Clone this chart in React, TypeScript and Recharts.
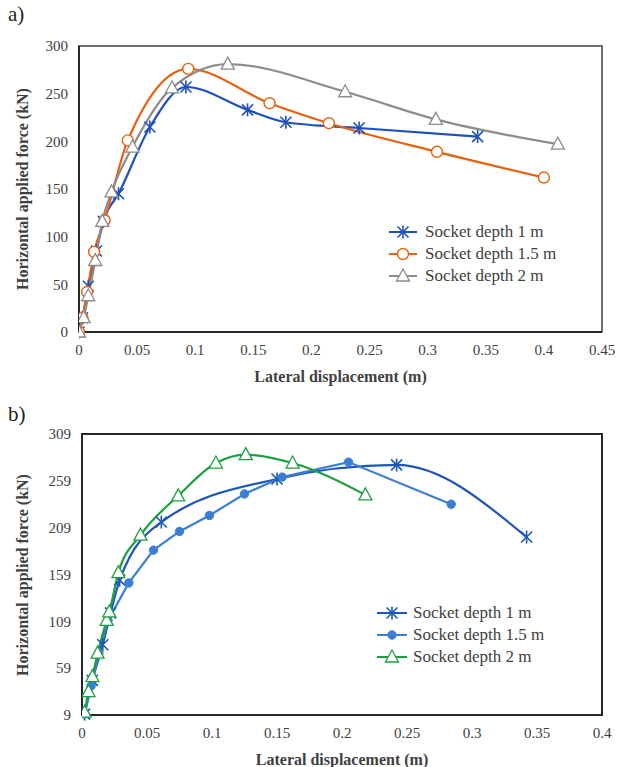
import React from 'react';
import { LineChart, Line, XAxis, YAxis, ReferenceArea, Legend } from 'recharts';

// ---------- Chart a) data ----------
const dispA1 = [0, 0.003, 0.008, 0.015, 0.021, 0.034, 0.061, 0.092, 0.145, 0.178, 0.241, 0.343];
const forceA1 = [0, 15, 48, 85, 116, 145, 215, 257, 233, 220, 214, 205];
const dispA2 = [0, 0.003, 0.007, 0.013, 0.022, 0.042, 0.094, 0.164, 0.215, 0.308, 0.4];
const forceA2 = [0, 15, 42, 84, 117, 201, 276, 240, 219, 189, 162];
const dispA3 = [0, 0.004, 0.008, 0.014, 0.02, 0.028, 0.046, 0.08, 0.128, 0.229, 0.307, 0.412];
const forceA3 = [0, 15, 38, 75, 116, 147, 194, 256, 281, 252, 223, 197];
const xTicksA = [0, 0.05, 0.1, 0.15, 0.2, 0.25, 0.3, 0.35, 0.4, 0.45];
const yTicksA = [0, 50, 100, 150, 200, 250, 300];

// ---------- Chart b) data ----------
const dispB1 = [0.002, 0.008, 0.016, 0.022, 0.029, 0.061, 0.15, 0.242, 0.342];
const forceB1 = [10, 46, 84, 118, 153, 215, 261, 276, 199];
const dispB2 = [0.002, 0.007, 0.013, 0.02, 0.036, 0.055, 0.075, 0.098, 0.125, 0.154, 0.205, 0.284];
const forceB2 = [10, 40, 75, 110, 150, 185, 205, 222, 245, 263, 279, 234];
const dispB3 = [0.002, 0.005, 0.008, 0.012, 0.019, 0.021, 0.028, 0.045, 0.074, 0.103, 0.126, 0.162, 0.218];
const forceB3 = [12, 34, 50, 75, 110, 119, 161, 201, 243, 278, 287, 278, 244];
const xTicksB = [0, 0.05, 0.1, 0.15, 0.2, 0.25, 0.3, 0.35, 0.4];
const yTicksB = [9, 59, 109, 159, 209, 259, 309];

const seriesLabels = ['Socket depth 1 m', 'Socket depth 1.5 m', 'Socket depth 2 m'];

const SERIF = 'Liberation Serif, Times New Roman, Times, serif';
const TEXT = '#404040';
const AXIS = '#262626';

const toPts = (xs: number[], ys: number[]) => xs.map((x, i) => ({ x, y: ys[i] }));

type Shape = 'star' | 'circle' | 'dot' | 'triangle';

const Marker = ({ shape, cx, cy, color }: { shape: Shape; cx: number; cy: number; color: string }) => {
  if (shape === 'star') {
    const s = 5.5;
    return (
      <g stroke={color} strokeWidth={1.6}>
        <line x1={cx - s} y1={cy - s} x2={cx + s} y2={cy + s} />
        <line x1={cx - s} y1={cy + s} x2={cx + s} y2={cy - s} />
        <line x1={cx} y1={cy - s - 1} x2={cx} y2={cy + s + 1} />
      </g>
    );
  }
  if (shape === 'circle') {
    return <circle cx={cx} cy={cy} r={5.5} fill="#fff" stroke={color} strokeWidth={1.4} />;
  }
  if (shape === 'dot') {
    return <circle cx={cx} cy={cy} r={4.2} fill={color} stroke={color} strokeWidth={1} />;
  }
  return (
    <polygon
      points={`${cx},${cy - 7} ${cx - 6.5},${cy + 5} ${cx + 6.5},${cy + 5}`}
      fill="#fff"
      stroke={color}
      strokeWidth={1.3}
    />
  );
};

const dotFn = (shape: Shape, color: string) => (p: any) => (
  <Marker key={`m-${p.index}`} shape={shape} cx={p.cx} cy={p.cy} color={color} />
);

type Item = { label: string; color: string; shape: Shape };

const LegendBox = ({ items, lineW, gap }: { items: Item[]; lineW: number; gap: number }) => (
  <div style={{ fontFamily: SERIF, fontSize: 17, color: TEXT }}>
    {items.map((it) => (
      <div key={it.label} style={{ display: 'flex', alignItems: 'center', height: 22 }}>
        <svg width={lineW} height={16} style={{ overflow: 'visible' }}>
          <line x1={0} y1={8} x2={lineW} y2={8} stroke={it.color} strokeWidth={2} />
          <Marker shape={it.shape} cx={lineW / 2} cy={8} color={it.color} />
        </svg>
        <span style={{ marginLeft: gap, whiteSpace: 'nowrap' }}>{it.label}</span>
      </div>
    ))}
  </div>
);

const colorsA = ['#1f4fbf', '#e8610f', '#8c8c8c'];
const shapesA: Shape[] = ['star', 'circle', 'triangle'];
const colorsB = ['#1d57b8', '#3b7fd4', '#1fa040'];
const shapesB: Shape[] = ['star', 'dot', 'triangle'];

const tickStyle = { fill: TEXT, fontSize: 15, fontFamily: SERIF };
const fmt = (v: number) => String(Math.round(v * 100) / 100);

const titleStyle: React.CSSProperties = {
  position: 'absolute',
  fontFamily: SERIF,
  fontWeight: 'bold',
  fontSize: 16,
  lineHeight: '18px',
  color: TEXT,
  textAlign: 'center',
  whiteSpace: 'nowrap',
};

export default function App() {
  const dataA = [toPts(dispA1, forceA1), toPts(dispA2, forceA2), toPts(dispA3, forceA3)];
  const dataB = [toPts(dispB1, forceB1), toPts(dispB2, forceB2), toPts(dispB3, forceB3)];
  const itemsA: Item[] = seriesLabels.map((l, i) => ({ label: l, color: colorsA[i], shape: shapesA[i] }));
  const itemsB: Item[] = seriesLabels.map((l, i) => ({ label: l, color: colorsB[i], shape: shapesB[i] }));
  const typesB: ('monotone' | 'linear')[] = ['monotone', 'linear', 'monotone'];

  return (
    <div style={{ position: 'absolute', left: 0, top: 0, width: 625, height: 767, background: '#fff', fontFamily: SERIF }}>
      <div style={{ position: 'absolute', left: 8, top: 2, fontSize: 21, color: '#222', fontFamily: SERIF }}>a)</div>
      <div style={{ position: 'absolute', left: 0, top: 0 }}>
        <LineChart width={625} height={390} margin={{ top: 46, right: 23, left: 0, bottom: 0 }}>
          <XAxis
            dataKey="x"
            type="number"
            domain={[0, 0.45]}
            ticks={xTicksA}
            tickFormatter={fmt}
            allowDataOverflow
            height={58}
            tickLine={false}
            tickMargin={6}
            tick={tickStyle}
            axisLine={{ stroke: AXIS, strokeWidth: 2 }}
          />
          <YAxis
            type="number"
            domain={[0, 300]}
            ticks={yTicksA}
            width={79}
            tickLine={false}
            tickMargin={5}
            tick={tickStyle}
            axisLine={{ stroke: AXIS, strokeWidth: 2 }}
          />
          <ReferenceArea x1={0} x2={0.45} y1={0} y2={300} fill="none" stroke="#404040" strokeWidth={1.5} ifOverflow="visible" />
          {dataA.map((d, i) => (
            <Line
              key={`a${i}`}
              data={d}
              dataKey="y"
              name={seriesLabels[i]}
              type="monotone"
              stroke={colorsA[i]}
              strokeWidth={2.2}
              dot={dotFn(shapesA[i], colorsA[i])}
              isAnimationActive={false}
            />
          ))}
          <Legend
            layout="vertical"
            align="center"
            verticalAlign="middle"
            wrapperStyle={{ left: 389, top: 221, width: 220 }}
            content={() => <LegendBox items={itemsA} lineW={28} gap={8} />}
          />
        </LineChart>
      </div>
      <div style={{ ...titleStyle, left: 79, width: 523, top: 368 }}>Lateral displacement (m)</div>
      <div style={{ ...titleStyle, left: 23 - 150, width: 300, top: 189 - 9, transform: 'rotate(-90deg)' }}>
        Horizontal applied force (kN)
      </div>

      <div style={{ position: 'absolute', left: 8, top: 402, fontSize: 21, color: '#222', fontFamily: SERIF }}>b)</div>
      <div style={{ position: 'absolute', left: 0, top: 400 }}>
        <LineChart width={625} height={367} margin={{ top: 34, right: 23, left: 0, bottom: 0 }}>
          <XAxis
            dataKey="x"
            type="number"
            domain={[0, 0.4]}
            ticks={xTicksB}
            tickFormatter={fmt}
            allowDataOverflow
            height={52}
            tickLine={false}
            tickMargin={6}
            tick={tickStyle}
            axisLine={{ stroke: AXIS, strokeWidth: 2 }}
          />
          <YAxis
            type="number"
            domain={[9, 309]}
            ticks={yTicksB}
            width={82}
            tickLine={false}
            tickMargin={5}
            tick={tickStyle}
            axisLine={{ stroke: AXIS, strokeWidth: 2 }}
          />
          <ReferenceArea x1={0} x2={0.4} y1={9} y2={309} fill="none" stroke="#262626" strokeWidth={2} ifOverflow="visible" />
          {dataB.map((d, i) => (
            <Line
              key={`b${i}`}
              data={d}
              dataKey="y"
              name={seriesLabels[i]}
              type={typesB[i]}
              stroke={colorsB[i]}
              strokeWidth={2.2}
              dot={dotFn(shapesB[i], colorsB[i])}
              isAnimationActive={false}
            />
          ))}
          <Legend
            layout="vertical"
            align="center"
            verticalAlign="middle"
            wrapperStyle={{ left: 377, top: 202, width: 220 }}
            content={() => <LegendBox items={itemsB} lineW={30} gap={6} />}
          />
        </LineChart>
      </div>
      <div style={{ ...titleStyle, left: 82, width: 520, top: 751 }}>Lateral displacement (m)</div>
      <div style={{ ...titleStyle, left: 23 - 150, width: 300, top: 575 - 9, transform: 'rotate(-90deg)' }}>
        Horizontal applied force (kN)
      </div>
    </div>
  );
}
